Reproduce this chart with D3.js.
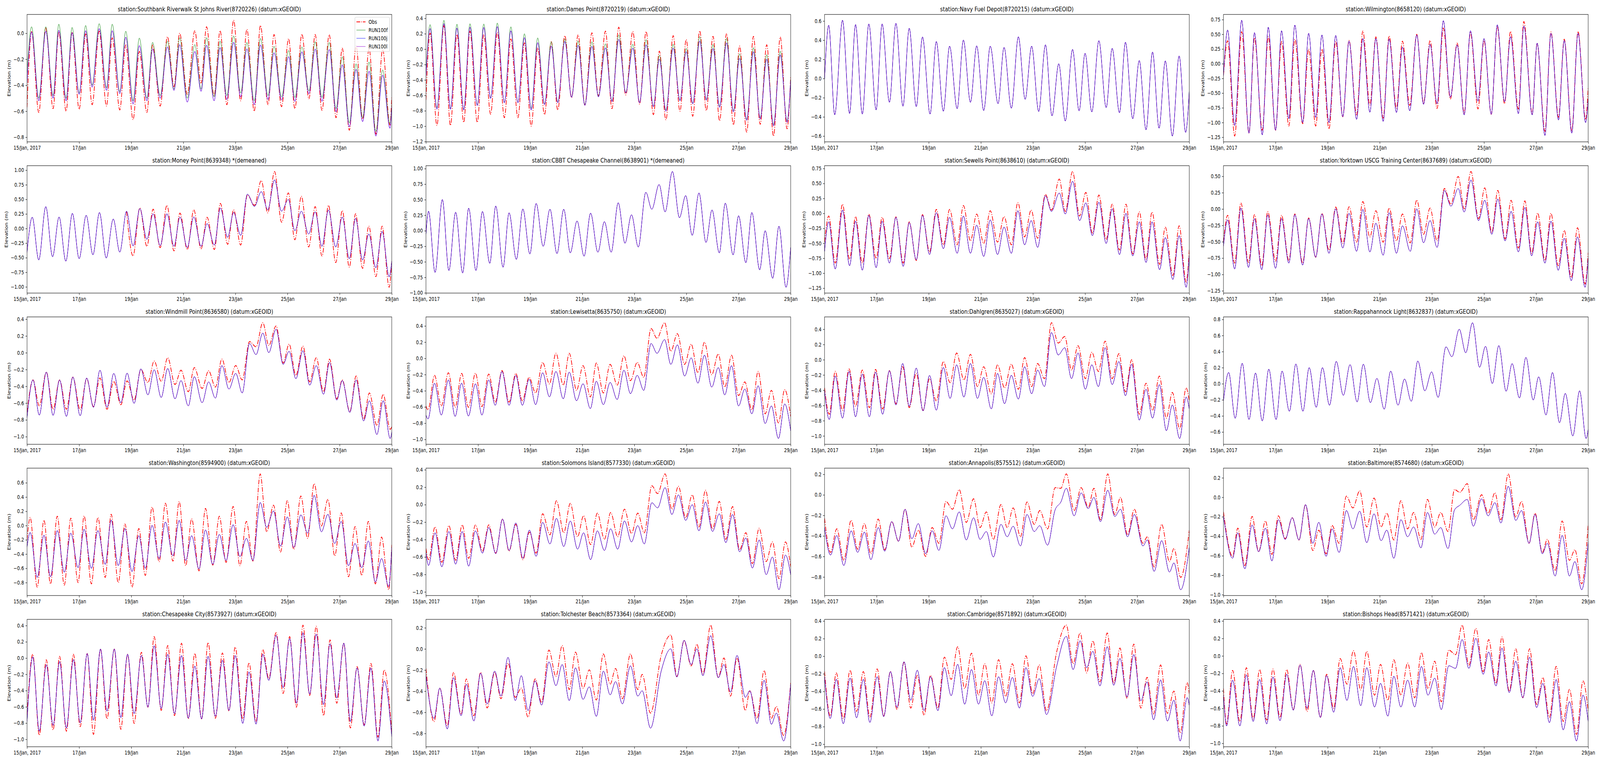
<!DOCTYPE html>
<html><head><meta charset="utf-8">
<script src="https://cdnjs.cloudflare.com/ajax/libs/d3/7.8.5/d3.min.js"></script>
<style>html,body{margin:0;padding:0;background:#fff;overflow:hidden;width:100%;height:100%}svg{display:block;width:100vw;height:100vh}text{font-family:"DejaVu Sans",sans-serif}</style>
</head><body><svg id="c" viewBox="0 0 5150 1950" preserveAspectRatio="none"></svg>
<script>
// ---- x axis ticks ----
const xTickDays = [0,2,4,6,8,10,12,14];
const xTickLabels = ["15/Jan, 2017","17/Jan","19/Jan","21/Jan","23/Jan","25/Jan","27/Jan","29/Jan"];
const seriesNames = ["Obs","RUN100f","RUN100j","RUN100l"];

// ---- 1 Southbank ----
const t01=[0,0.175,0.45,0.72,1.0,1.22,1.5,1.73,2.0,2.25,2.5,2.77,3.05,3.27,3.56,3.79,4.07,4.31,4.6,4.82,5.11,5.39,5.64,5.86,6.15,6.44,6.68,6.89,7.18,7.41,7.67,7.93,8.2,8.44,8.72,8.96,9.25,9.48,9.77,10.04,10.28,10.55,10.82,11.06,11.32,11.6,11.86,12.1,12.37,12.63,12.88,13.13,13.39,13.65,13.93,14];
const obs01=[-0.57,0.013,-0.61,0.04,-0.58,0.01,-0.60,0.005,-0.585,-0.005,-0.55,0.016,-0.56,-0.035,-0.59,-0.09,-0.665,-0.14,-0.61,-0.09,-0.56,-0.027,-0.41,0.0,-0.47,0.02,-0.383,0.05,-0.48,0.02,-0.55,0.10,-0.52,0.03,-0.60,0.06,-0.55,-0.01,-0.565,-0.042,-0.58,-0.007,-0.504,-0.01,-0.593,-0.011,-0.65,-0.115,-0.746,-0.098,-0.66,-0.118,-0.776,-0.123,-0.706,-0.485];
const f01=[-0.30,0.05,-0.50,0.05,-0.48,0.07,-0.50,0.045,-0.46,0.06,-0.40,0.074,-0.42,0.07,-0.45,0.016,-0.52,-0.037,-0.50,-0.07,-0.48,-0.06,-0.43,-0.034,-0.50,-0.087,-0.43,-0.034,-0.49,-0.06,-0.48,-0.02,-0.46,-0.07,-0.52,-0.04,-0.48,-0.10,-0.49,-0.133,-0.494,-0.105,-0.444,-0.065,-0.494,-0.071,-0.58,-0.181,-0.69,-0.235,-0.65,-0.221,-0.756,-0.282,-0.696,-0.55];
const l01=[-0.38,0.01,-0.52,0.016,-0.50,0.023,-0.52,0.005,-0.47,0.02,-0.415,0.036,-0.44,0.02,-0.465,-0.03,-0.545,-0.095,-0.52,-0.12,-0.50,-0.105,-0.44,-0.088,-0.53,-0.14,-0.447,-0.092,-0.52,-0.11,-0.51,-0.07,-0.49,-0.12,-0.55,-0.09,-0.51,-0.15,-0.514,-0.18,-0.524,-0.143,-0.466,-0.121,-0.524,-0.125,-0.605,-0.243,-0.72,-0.277,-0.68,-0.292,-0.791,-0.322,-0.731,-0.565];
const yt01=[-0.8,-0.6,-0.4,-0.2,0.0];

// ---- 2 Dames Point ----
const t02=[0,0.16,0.42,0.69,0.94,1.19,1.45,1.69,1.97,2.22,2.48,2.74,3.01,3.26,3.53,3.78,4.04,4.29,4.55,4.81,5.06,5.33,5.59,5.84,6.1,6.37,6.62,6.89,7.14,7.4,7.67,7.94,8.2,8.45,8.73,8.96,9.21,9.49,9.75,9.99,10.24,10.51,10.76,11.02,11.27,11.54,11.8,12.04,12.31,12.57,12.83,13.08,13.34,13.6,13.86,14];
const obs02=[-0.66,0.209,-0.99,0.305,-0.99,0.19,-0.95,0.234,-0.95,0.19,-0.845,0.217,-0.89,0.133,-0.89,0.082,-1.0,0.018,-0.85,0.096,-0.79,0.175,-0.63,0.186,-0.725,0.212,-0.608,0.234,-0.773,0.285,-0.594,0.229,-0.714,0.229,-0.85,-0.025,-0.917,0.175,-0.806,0.124,-0.871,0.237,-0.798,0.166,-0.93,0.203,-0.983,0.04,-1.077,0.166,-0.975,0.057,-1.128,0.158,-1.034,-0.358];
const f02=[-0.31,0.319,-0.76,0.375,-0.77,0.324,-0.78,0.33,-0.72,0.327,-0.63,0.339,-0.69,0.29,-0.69,0.2,-0.77,0.146,-0.71,0.096,-0.685,0.133,-0.62,0.107,-0.72,0.096,-0.61,0.07,-0.67,0.187,-0.56,0.065,-0.69,0.124,-0.74,-0.08,-0.79,0.065,-0.66,0.01,-0.70,0.163,-0.65,0.061,-0.74,0.14,-0.80,-0.06,-0.91,0.019,-0.89,-0.071,-0.98,-0.025,-0.93,-0.40];
const l02=[-0.36,0.268,-0.78,0.332,-0.78,0.273,-0.79,0.285,-0.733,0.282,-0.64,0.293,-0.696,0.238,-0.696,0.15,-0.79,0.085,-0.72,0.04,-0.696,0.1,-0.625,0.05,-0.73,0.036,-0.62,0.017,-0.682,0.127,-0.569,0.014,-0.696,0.057,-0.747,-0.13,-0.806,0.014,-0.67,-0.033,-0.71,0.107,-0.663,0.008,-0.755,0.082,-0.815,-0.118,-0.924,-0.033,-0.907,-0.13,-0.997,-0.074,-0.95,-0.41];
const yt02=[-1.2,-1.0,-0.8,-0.6,-0.4,-0.2,0.0,0.2,0.4];

// ---- 3 Navy Fuel Depot (model only) ----
const t03=[0,0.16,0.39,0.69,0.96,1.19,1.45,1.7,1.98,2.21,2.49,2.74,3.01,3.25,3.52,3.76,4.05,4.29,4.56,4.8,5.09,5.33,5.6,5.84,6.11,6.36,6.66,6.89,7.17,7.44,7.7,7.95,8.22,8.48,8.73,8.99,9.24,9.52,9.77,10.0,10.26,10.53,10.81,11.04,11.32,11.55,11.83,12.08,12.34,12.59,12.84,13.08,13.35,13.61,13.86,14];
const mod03=[0.0,0.556,-0.378,0.608,-0.364,0.563,-0.371,0.57,-0.327,0.57,-0.248,0.577,-0.289,0.525,-0.293,0.434,-0.371,0.386,-0.341,0.338,-0.314,0.402,-0.248,0.341,-0.334,0.338,-0.262,0.325,-0.31,0.436,-0.217,0.338,-0.344,0.352,-0.389,0.154,-0.443,0.304,-0.337,0.263,-0.348,0.395,-0.303,0.315,-0.357,0.379,-0.419,0.188,-0.535,0.277,-0.518,0.184,-0.60,0.236,-0.562,-0.132];
const yt03=[-0.6,-0.4,-0.2,0.0,0.2,0.4,0.6];

// ---- 4 Wilmington ----
const t04=[0,0.16,0.43,0.7,0.98,1.19,1.49,1.72,2.0,2.23,2.51,2.74,3.04,3.27,3.54,3.78,4.05,4.31,4.58,4.82,5.11,5.35,5.62,5.85,6.13,6.36,6.64,6.87,7.15,7.42,7.68,7.93,8.2,8.44,8.71,8.97,9.24,9.48,9.77,10.0,10.28,10.51,10.79,11.02,11.32,11.53,11.85,12.04,12.34,12.57,12.86,13.08,13.37,13.61,13.9,14];
const obs04=[-0.2,0.39,-1.23,0.544,-1.18,0.44,-1.13,0.46,-1.13,0.377,-1.06,0.417,-1.02,0.25,-1.06,0.25,-1.11,0.377,-0.902,0.395,-0.87,0.557,-0.702,0.457,-0.924,0.473,-0.758,0.384,-0.71,0.5,-0.67,0.395,-0.76,0.606,-0.6,0.35,-0.836,0.528,-0.77,0.395,-0.86,0.628,-0.68,0.55,-0.77,0.717,-0.85,0.34,-1.15,0.54,-0.91,0.417,-1.14,0.55,-0.95,-0.4];
const mod04=[-0.2,0.573,-1.05,0.739,-1.18,0.528,-1.21,0.62,-1.13,0.56,-0.935,0.657,-1.0,0.517,-0.913,0.488,-1.0,0.48,-0.902,0.384,-0.946,0.428,-0.825,0.428,-0.98,0.42,-0.83,0.284,-0.8,0.488,-0.69,0.328,-0.68,0.732,-0.57,0.318,-0.87,0.56,-0.636,0.428,-0.86,0.661,-0.647,0.46,-0.85,0.64,-0.87,0.35,-1.22,0.517,-0.957,0.395,-1.18,0.517,-1.0,-0.6];
const yt04=[-1.25,-1.0,-0.75,-0.5,-0.25,0,0.25,0.5,0.75];

// ---- 5 Money Point ----
const t05=[0,0.2,0.45,0.72,0.98,1.23,1.49,1.74,2.0,2.27,2.53,2.78,3.04,3.31,3.56,3.82,4.07,4.33,4.6,4.84,5.11,5.37,5.64,5.87,6.15,6.4,6.68,6.91,7.19,7.42,7.7,7.93,8.2,8.46,8.73,8.99,9.24,9.5,9.77,10.03,10.28,10.53,10.81,11.06,11.32,11.57,11.85,12.1,12.37,12.61,12.88,13.12,13.39,13.63,13.9,14];
const obs05=[null,null,null,null,null,null,null,null,null,null,null,null,null,null,null,0.29,-0.47,0.353,-0.305,0.331,-0.327,0.398,-0.383,0.264,-0.36,0.32,-0.35,0.193,-0.36,0.431,-0.27,0.32,-0.283,0.576,0.398,0.822,0.269,0.978,0.108,0.61,-0.193,0.553,-0.316,0.375,-0.471,0.398,-0.583,0.308,-0.661,0.253,-0.683,0.041,-0.824,0.041,-1.007,-0.56];
const mod05=[-0.41,0.193,-0.538,0.375,-0.483,0.197,-0.56,0.26,-0.516,0.226,-0.45,0.275,-0.505,0.163,-0.405,0.297,-0.3,0.342,-0.183,0.253,-0.294,0.253,-0.305,0.197,-0.327,0.2,-0.305,0.085,-0.283,0.353,-0.15,0.275,-0.116,0.588,0.38,0.632,0.32,0.833,0.297,0.498,-0.037,0.297,-0.094,0.286,-0.305,0.32,-0.316,0.197,-0.516,0.175,-0.538,-0.094,-0.672,-0.05,-0.828,-0.56];
const yt05=[-1.0,-0.75,-0.5,-0.25,0,0.25,0.5,0.75,1.0];

// ---- 6 CBBT (model only) ----
const t06=[0,0.1,0.35,0.63,0.88,1.14,1.41,1.64,1.92,2.17,2.45,2.68,2.96,3.19,3.47,3.72,3.99,4.23,4.5,4.76,5.03,5.29,5.54,5.8,6.07,6.32,6.6,6.85,7.11,7.38,7.64,7.89,8.15,8.44,8.67,8.95,9.18,9.46,9.73,9.97,10.22,10.48,10.75,10.98,11.26,11.49,11.79,12.0,12.28,12.51,12.81,13.02,13.31,13.55,13.82,14];
const mod06=[-0.06,0.314,-0.67,0.503,-0.64,0.298,-0.68,0.363,-0.64,0.31,-0.524,0.398,-0.587,0.289,-0.461,0.35,-0.373,0.44,-0.252,0.346,-0.367,0.346,-0.356,0.157,-0.409,0.283,-0.346,0.147,-0.346,0.45,-0.2,0.258,-0.262,0.618,0.346,0.744,0.304,0.954,0.21,0.566,-0.073,0.608,-0.189,0.335,-0.356,0.444,-0.388,0.241,-0.514,0.293,-0.629,0.0,-0.765,0.073,-0.91,-0.27];
const yt06=[-1.0,-0.75,-0.5,-0.25,0,0.25,0.5,0.75,1.0];

// ---- 7 Sewells Point ----
const t07=[0,0.16,0.41,0.69,0.96,1.19,1.45,1.7,1.98,2.21,2.49,2.74,3.02,3.25,3.52,3.76,4.03,4.29,4.56,4.8,5.09,5.33,5.6,5.84,6.11,6.36,6.64,6.89,7.17,7.42,7.68,7.93,8.18,8.48,8.71,9.01,9.24,9.52,9.79,10.03,10.28,10.53,10.81,11.04,11.32,11.57,11.83,12.08,12.34,12.57,12.86,13.08,13.37,13.61,13.88,14];
const obs07=[-0.48,-0.044,-0.83,0.153,-0.765,-0.055,-0.83,-0.015,-0.754,-0.066,-0.754,-0.059,-0.83,-0.142,-0.787,-0.022,-0.645,0.066,-0.525,0.066,-0.525,0.131,-0.459,-0.011,-0.503,0.044,-0.48,-0.055,-0.525,0.18,-0.393,0.055,-0.415,0.317,0.055,0.573,0.033,0.70,-0.044,0.35,-0.328,0.306,-0.437,0.153,-0.612,0.153,-0.677,0.026,-0.765,0.022,-0.852,-0.23,-1.038,-0.208,-1.147,-0.61];
const mod07=[-0.634,-0.142,-0.929,0.055,-0.874,-0.131,-0.95,-0.033,-0.907,-0.131,-0.83,-0.066,-0.885,-0.153,-0.776,-0.033,-0.688,0.011,-0.59,-0.066,-0.667,-0.044,-0.667,-0.197,-0.72,-0.109,-0.688,-0.23,-0.667,0.044,-0.525,-0.12,-0.568,0.295,0.033,0.339,-0.011,0.536,-0.12,0.175,-0.372,0.186,-0.503,0.077,-0.688,0.0,-0.71,-0.142,-0.82,-0.142,-0.94,-0.404,-1.104,-0.372,-1.235,-0.7];
const yt07=[-1.25,-1.0,-0.75,-0.5,-0.25,0,0.25,0.5,0.75];

// ---- 8 Yorktown ----
const t08=[0,0.16,0.43,0.67,0.96,1.19,1.47,1.7,2.0,2.23,2.51,2.74,3.04,3.27,3.54,3.78,4.05,4.31,4.58,4.82,5.11,5.35,5.62,5.85,6.13,6.36,6.64,6.87,7.17,7.42,7.68,7.93,8.2,8.48,8.73,9.01,9.24,9.5,9.79,10.03,10.3,10.53,10.81,11.04,11.32,11.57,11.83,12.06,12.34,12.57,12.85,13.08,13.35,13.59,13.88,14];
const obs08=[-0.506,-0.096,-0.826,0.094,-0.816,-0.086,-0.866,-0.04,-0.796,-0.096,-0.786,-0.076,-0.826,-0.136,-0.736,-0.066,-0.626,0.03,-0.526,0.034,-0.506,0.114,-0.426,-0.026,-0.506,0.014,-0.486,-0.076,-0.516,0.138,-0.386,0.014,-0.486,0.314,0.074,0.498,0.004,0.574,-0.146,0.324,-0.356,0.284,-0.456,0.134,-0.596,0.124,-0.676,-0.062,-0.786,-0.066,-0.866,-0.326,-1.046,-0.286,-1.146,-0.666];
const mod08=[-0.566,-0.166,-0.916,0.014,-0.892,-0.146,-0.926,-0.09,-0.906,-0.146,-0.826,-0.086,-0.856,-0.146,-0.736,-0.076,-0.676,0.004,-0.596,-0.066,-0.646,-0.006,-0.656,-0.216,-0.706,-0.056,-0.676,-0.256,-0.646,0.004,-0.516,-0.176,-0.586,0.284,0.044,0.314,-0.046,0.444,-0.176,0.134,-0.386,0.154,-0.486,-0.036,-0.656,0.024,-0.716,-0.196,-0.826,-0.186,-0.936,-0.446,-1.096,-0.426,-1.196,-0.746];
const yt08=[-1.25,-1.0,-0.75,-0.5,-0.25,0,0.25,0.5];

// ---- 9 Windmill Point ----
const t09=[0,0.23,0.47,0.74,1.0,1.25,1.51,1.76,2.04,2.29,2.55,2.8,3.07,3.33,3.6,3.84,4.11,4.37,4.64,4.88,5.15,5.4,5.68,5.91,6.19,6.42,6.72,6.97,7.23,7.48,7.75,8.01,8.26,8.54,8.79,9.05,9.28,9.56,9.83,10.06,10.32,10.59,10.85,11.1,11.38,11.61,11.89,12.1,12.39,12.63,12.92,13.14,13.43,13.67,13.94,14];
const obs09=[-0.71,-0.324,-0.634,-0.231,-0.673,-0.324,-0.673,-0.29,-0.68,-0.308,-0.642,-0.301,-0.673,-0.34,-0.619,-0.336,-0.564,-0.2,-0.355,-0.099,-0.34,-0.06,-0.378,-0.208,-0.464,-0.177,-0.425,-0.215,-0.409,-0.076,-0.355,-0.153,-0.324,0.133,0.071,0.358,0.087,0.319,-0.122,0.102,-0.27,0.079,-0.347,-0.06,-0.464,-0.076,-0.549,-0.324,-0.704,-0.278,-0.789,-0.479,-0.867,-0.495,-0.913,-0.882];
const mod09=[-0.773,-0.324,-0.743,-0.231,-0.746,-0.324,-0.758,-0.29,-0.75,-0.301,-0.65,-0.208,-0.65,-0.246,-0.595,-0.243,-0.603,-0.192,-0.502,-0.203,-0.533,-0.188,-0.549,-0.332,-0.634,-0.285,-0.595,-0.347,-0.541,-0.153,-0.433,-0.246,-0.479,0.11,-0.022,0.234,0.002,0.281,-0.138,0.017,-0.309,0.025,-0.386,-0.153,-0.495,-0.115,-0.564,-0.332,-0.712,-0.324,-0.812,-0.572,-0.975,-0.572,-1.022,-0.944];
const yt09=[-1.0,-0.8,-0.6,-0.4,-0.2,0.0,0.2,0.4];

// ---- 10 Lewisetta ----
const t10=[0,0.08,0.33,0.59,0.86,1.12,1.37,1.63,1.9,2.15,2.41,2.66,2.92,3.19,3.45,3.7,3.96,4.21,4.48,4.74,4.99,5.27,5.5,5.78,6.03,6.31,6.54,6.81,7.07,7.34,7.6,7.85,8.11,8.36,8.64,8.87,9.16,9.4,9.65,9.93,10.18,10.44,10.69,10.97,11.22,11.47,11.73,12.0,12.24,12.51,12.75,13.02,13.26,13.53,13.77,14];
const obs10=[-0.587,-0.636,-0.21,-0.587,-0.178,-0.603,-0.186,-0.603,-0.183,-0.595,-0.194,-0.539,-0.151,-0.539,-0.186,-0.523,-0.234,-0.427,-0.05,-0.315,0.063,-0.331,0.063,-0.395,-0.09,-0.475,-0.058,-0.427,-0.074,-0.331,0.031,-0.275,-0.05,-0.234,0.368,0.247,0.44,0.087,0.304,-0.074,0.175,-0.178,0.199,-0.202,0.055,-0.355,0.039,-0.459,-0.291,-0.636,-0.162,-0.684,-0.395,-0.796,-0.387,-0.716];
const mod10=[-0.70,-0.748,-0.306,-0.70,-0.266,-0.716,-0.306,-0.712,-0.314,-0.70,-0.266,-0.579,-0.162,-0.579,-0.21,-0.579,-0.258,-0.571,-0.178,-0.475,-0.162,-0.499,-0.17,-0.523,-0.314,-0.619,-0.282,-0.571,-0.298,-0.507,-0.146,-0.435,-0.21,-0.395,0.183,0.063,0.231,-0.074,0.167,-0.218,0.006,-0.306,0.039,-0.355,-0.114,-0.451,-0.09,-0.587,-0.379,-0.684,-0.338,-0.804,-0.587,-0.989,-0.563,-0.893];
const yt10=[-1.0,-0.8,-0.6,-0.4,-0.2,0.0,0.2,0.4];

// ---- 11 Dahlgren ----
const t11=[0,0.18,0.41,0.69,0.94,1.19,1.45,1.72,1.96,2.23,2.49,2.74,3.0,3.25,3.52,3.78,4.03,4.29,4.56,4.82,5.07,5.35,5.6,5.87,6.11,6.4,6.64,6.91,7.17,7.44,7.68,7.95,8.18,8.44,8.71,8.97,9.22,9.48,9.73,10.01,10.26,10.51,10.77,11.04,11.3,11.55,11.79,12.08,12.34,12.59,12.85,13.12,13.35,13.63,13.88,14];
const obs11=[-0.37,-0.715,-0.153,-0.663,-0.119,-0.611,-0.136,-0.629,-0.127,-0.646,-0.144,-0.577,-0.092,-0.629,-0.179,-0.663,-0.248,-0.542,-0.024,-0.3,0.088,-0.266,0.071,-0.352,-0.092,-0.447,-0.067,-0.37,-0.058,-0.387,0.028,-0.352,-0.05,-0.248,0.486,0.219,0.305,-0.136,0.184,-0.248,0.097,-0.153,0.244,-0.248,0.079,-0.421,0.002,-0.715,-0.309,-0.663,-0.214,-0.767,-0.43,-0.905,-0.37,-0.542];
const mod11=[-0.404,-0.784,-0.214,-0.767,-0.153,-0.749,-0.188,-0.749,-0.162,-0.715,-0.144,-0.594,-0.049,-0.611,-0.11,-0.672,-0.205,-0.663,-0.101,-0.508,-0.067,-0.49,-0.049,-0.508,-0.231,-0.646,-0.179,-0.577,-0.205,-0.516,-0.092,-0.447,-0.136,-0.352,0.357,0.062,0.158,-0.248,0.089,-0.387,-0.067,-0.352,0.158,-0.326,-0.024,-0.473,-0.058,-0.792,-0.387,-0.767,-0.326,-0.931,-0.594,-1.034,-0.49,-0.646];
const yt11=[-1.0,-0.8,-0.6,-0.4,-0.2,0.0,0.2,0.4];

// ---- 12 Rappahannock Light (model only) ----
const t12=[0,0.2,0.45,0.72,0.98,1.23,1.49,1.74,2.02,2.25,2.53,2.78,3.05,3.29,3.56,3.8,4.07,4.33,4.6,4.86,5.13,5.37,5.64,5.89,6.17,6.42,6.7,6.95,7.21,7.46,7.73,7.99,8.24,8.54,8.77,9.05,9.3,9.56,9.83,10.06,10.32,10.57,10.85,11.08,11.36,11.61,11.89,12.1,12.38,12.63,12.9,13.12,13.41,13.67,13.92,14];
const mod12=[-0.21,0.14,-0.429,0.254,-0.445,0.133,-0.462,0.181,-0.445,0.157,-0.342,0.246,-0.342,0.2,-0.293,0.2,-0.267,0.278,-0.145,0.238,-0.226,0.243,-0.234,0.067,-0.316,0.157,-0.267,0.059,-0.218,0.282,-0.088,0.148,-0.169,0.458,0.336,0.678,0.385,0.759,0.205,0.466,0.002,0.474,-0.093,0.25,-0.177,0.328,-0.202,0.086,-0.388,0.14,-0.485,-0.12,-0.649,-0.088,-0.681,-0.567];
const yt12=[-0.6,-0.4,-0.2,0.0,0.2,0.4,0.6,0.8];

// ---- 13 Washington ----
const t13=[0,0.12,0.39,0.65,0.9,1.16,1.43,1.68,1.96,2.19,2.47,2.72,3.0,3.23,3.5,3.76,4.03,4.29,4.54,4.8,5.07,5.31,5.6,5.84,6.09,6.32,6.6,6.85,7.13,7.38,7.64,7.91,8.17,8.42,8.67,8.95,9.2,9.46,9.73,9.99,10.24,10.51,10.77,11.02,11.3,11.55,11.81,12.06,12.34,12.59,12.85,13.1,13.37,13.61,13.88,14];
const obs13=[-0.2,0.113,-0.864,0.076,-0.818,0.131,-0.836,0.104,-0.8,0.135,-0.818,0.113,-0.727,0.159,-0.8,0.022,-0.864,-0.042,-0.7,0.259,-0.507,0.313,-0.498,0.336,-0.562,0.094,-0.636,0.24,-0.554,0.131,-0.516,0.268,-0.562,0.058,-0.498,0.724,-0.088,0.286,-0.371,0.35,-0.334,0.414,-0.179,0.587,-0.005,0.368,-0.425,0.177,-0.718,-0.015,-0.7,0.058,-0.818,-0.161,-0.9,-0.27];
const mod13=[-0.3,-0.097,-0.727,-0.134,-0.718,-0.07,-0.653,-0.106,-0.59,-0.051,-0.599,-0.07,-0.544,0.076,-0.562,-0.042,-0.645,-0.142,-0.599,0.003,-0.462,0.049,-0.425,0.073,-0.49,-0.142,-0.608,-0.061,-0.544,-0.124,-0.49,0.012,-0.434,-0.179,-0.49,0.323,-0.024,0.204,-0.288,0.122,-0.307,0.149,-0.106,0.423,-0.088,0.158,-0.252,0.058,-0.562,-0.252,-0.59,-0.215,-0.791,-0.462,-0.855,-0.307];
const yt13=[-0.8,-0.6,-0.4,-0.2,0.0,0.2,0.4,0.6];

// ---- 14 Solomons Island ----
const t14=[0,0.1,0.35,0.61,0.88,1.14,1.39,1.64,1.9,2.17,2.41,2.68,2.94,3.19,3.45,3.72,3.97,4.23,4.48,4.76,5.01,5.29,5.54,5.82,6.05,6.32,6.58,6.85,7.09,7.36,7.62,7.89,8.13,8.38,8.67,8.89,9.18,9.44,9.69,9.97,10.22,10.48,10.73,11.0,11.26,11.51,11.77,12.04,12.28,12.53,12.79,13.06,13.3,13.55,13.8,14];
const obs14=[-0.502,-0.63,-0.255,-0.66,-0.24,-0.637,-0.232,-0.615,-0.232,-0.532,-0.232,-0.555,-0.165,-0.532,-0.225,-0.63,-0.315,-0.555,-0.105,-0.345,0.045,-0.322,0.015,-0.367,-0.127,-0.457,-0.097,-0.397,-0.09,-0.367,-0.052,-0.33,-0.097,-0.322,0.217,0.127,0.352,-0.052,0.21,-0.15,0.112,-0.255,0.165,-0.277,0.037,-0.397,-0.022,-0.517,-0.322,-0.675,-0.27,-0.652,-0.427,-0.847,-0.427,-0.712];
const mod14=[-0.547,-0.697,-0.322,-0.712,-0.307,-0.682,-0.307,-0.705,-0.3,-0.555,-0.262,-0.562,-0.165,-0.525,-0.21,-0.615,-0.292,-0.592,-0.203,-0.45,-0.157,-0.48,-0.187,-0.51,-0.322,-0.63,-0.3,-0.525,-0.277,-0.51,-0.187,-0.427,-0.24,-0.45,0.022,-0.037,0.195,-0.112,0.112,-0.18,0.0,-0.3,0.03,-0.307,-0.105,-0.435,-0.112,-0.54,-0.382,-0.727,-0.405,-0.802,-0.6,-0.975,-0.577,-0.802];
const yt14=[-1.0,-0.8,-0.6,-0.4,-0.2,0.0,0.2,0.4];

// ---- 15 Annapolis ----
const t15=[0,0.23,0.47,0.74,1.02,1.27,1.53,1.78,2.06,2.31,2.58,2.84,3.09,3.35,3.6,3.88,4.13,4.39,4.66,4.91,5.17,5.44,5.72,5.97,6.21,6.48,6.77,7.01,7.24,7.52,7.77,8.05,8.26,8.56,8.85,9.07,9.28,9.58,9.85,10.12,10.34,10.59,10.87,11.14,11.36,11.63,11.89,12.22,12.39,12.65,12.94,13.24,13.41,13.67,14];
const obs15=[-0.229,-0.56,-0.331,-0.637,-0.248,-0.529,-0.28,-0.573,-0.236,-0.535,-0.261,-0.452,-0.14,-0.509,-0.344,-0.599,-0.318,-0.471,-0.064,-0.14,0.051,-0.268,-0.038,-0.318,-0.166,-0.433,-0.095,-0.318,-0.127,-0.408,-0.07,-0.287,-0.153,-0.331,0.07,0.064,0.204,-0.153,0.07,-0.121,0.064,-0.242,0.204,-0.191,-0.025,-0.389,-0.14,-0.471,-0.408,-0.701,-0.287,-0.65,-0.522,-0.803,-0.344];
const mod15=[-0.318,-0.586,-0.395,-0.688,-0.35,-0.56,-0.363,-0.631,-0.318,-0.548,-0.261,-0.452,-0.14,-0.427,-0.28,-0.573,-0.35,-0.541,-0.204,-0.331,-0.166,-0.439,-0.223,-0.433,-0.357,-0.605,-0.287,-0.408,-0.306,-0.497,-0.191,-0.357,-0.3,-0.49,-0.146,-0.07,0.064,-0.204,0.019,-0.134,-0.025,-0.261,0.045,-0.21,-0.14,-0.408,-0.191,-0.497,-0.439,-0.745,-0.446,-0.752,-0.663,-0.924,-0.509];
const yt15=[-0.8,-0.6,-0.4,-0.2,0.0,0.2];

// ---- 16 Baltimore ----
const t16=[0,0.35,0.55,0.82,1.1,1.35,1.61,1.86,2.11,2.37,2.64,2.9,3.15,3.43,3.66,3.94,4.17,4.44,4.72,4.97,5.23,5.5,5.78,6.05,6.27,6.54,6.81,7.07,7.3,7.58,7.83,8.11,8.34,8.62,8.87,9.07,9.36,9.59,9.91,10.16,10.42,10.65,10.93,11.22,11.44,11.73,11.96,12.24,12.43,12.73,13.0,13.28,13.49,13.75,14];
const obs16=[-0.15,-0.606,-0.317,-0.70,-0.196,-0.559,-0.243,-0.586,-0.19,-0.425,-0.21,-0.438,-0.075,-0.546,-0.338,-0.579,-0.29,-0.472,0.012,-0.109,0.066,-0.304,-0.008,-0.304,-0.163,-0.438,-0.035,-0.324,-0.156,-0.432,-0.022,-0.304,-0.156,-0.351,0.079,0.052,0.14,-0.23,0.026,-0.163,0.046,-0.23,0.24,-0.203,-0.042,-0.472,-0.163,-0.566,-0.432,-0.754,-0.243,-0.647,-0.539,-0.888,-0.277];
const mod16=[-0.19,-0.626,-0.364,-0.734,-0.284,-0.559,-0.317,-0.653,-0.23,-0.432,-0.21,-0.438,-0.075,-0.472,-0.257,-0.606,-0.324,-0.566,-0.136,-0.324,-0.143,-0.465,-0.17,-0.445,-0.337,-0.626,-0.23,-0.405,-0.304,-0.519,-0.156,-0.378,-0.311,-0.526,-0.129,-0.082,-0.022,-0.297,-0.015,-0.19,-0.055,-0.264,0.113,-0.237,-0.136,-0.472,-0.176,-0.579,-0.472,-0.808,-0.391,-0.808,-0.66,-0.949,-0.458];
const yt16=[-1.0,-0.8,-0.6,-0.4,-0.2,0.0,0.2];

// ---- 17 Chesapeake City ----
const t17=[0,0.22,0.47,0.74,1.0,1.25,1.51,1.78,2.04,2.31,2.55,2.82,3.07,3.35,3.6,3.86,4.11,4.39,4.64,4.88,5.15,5.4,5.66,5.93,6.19,6.44,6.7,6.95,7.23,7.5,7.75,7.99,8.28,8.52,8.79,9.05,9.28,9.56,9.83,10.08,10.34,10.59,10.85,11.1,11.38,11.63,11.89,12.16,12.41,12.67,12.94,13.2,13.47,13.71,14];
const obs17=[-0.70,0.047,-0.949,-0.022,-0.884,0.022,-0.90,0.047,-0.844,0.055,-0.94,0.111,-0.748,0.111,-0.876,0.047,-0.804,0.071,-0.604,0.264,-0.644,0.154,-0.708,0.183,-0.748,0.058,-0.748,0.191,-0.74,0.063,-0.652,0.135,-0.748,-0.058,-0.78,0.103,-0.25,0.312,-0.435,0.264,-0.604,0.405,-0.459,0.392,-0.708,0.223,-0.555,0.183,-0.86,-0.106,-0.82,-0.066,-0.972,-0.146,-0.908];
const mod17=[-0.78,0.015,-0.90,-0.082,-0.828,-0.042,-0.86,-0.017,-0.796,0.055,-0.764,0.111,-0.652,0.111,-0.732,0.047,-0.684,0.031,-0.604,0.151,-0.62,0.047,-0.684,0.031,-0.74,-0.098,-0.748,0.022,-0.716,-0.026,-0.644,0.031,-0.804,-0.17,-0.812,0.047,-0.274,0.28,-0.363,0.239,-0.555,0.312,-0.443,0.296,-0.571,0.175,-0.491,0.183,-0.78,-0.122,-0.836,-0.122,-1.02,-0.282,-0.965];
const yt17=[-1.0,-0.8,-0.6,-0.4,-0.2,0.0,0.2,0.4];

// ---- 18 Tolchester Beach ----
const t18=[0,0.31,0.53,0.82,1.06,1.35,1.55,1.84,2.1,2.35,2.64,2.88,3.15,3.43,3.66,3.92,4.19,4.44,4.72,4.99,5.23,5.5,5.74,6.03,6.27,6.54,6.81,7.07,7.28,7.54,7.85,8.13,8.3,8.62,9.03,9.4,9.63,9.91,10.18,10.4,10.63,10.93,11.22,11.44,11.69,11.94,12.26,12.43,12.71,12.98,13.26,13.45,13.73,14];
const obs18=[-0.185,-0.688,-0.371,-0.725,-0.222,-0.62,-0.284,-0.632,-0.222,-0.558,-0.222,-0.471,-0.135,-0.458,-0.371,-0.645,-0.284,-0.508,-0.011,-0.26,0.032,-0.384,-0.03,-0.371,-0.198,-0.483,-0.048,-0.334,-0.185,-0.471,-0.048,-0.384,-0.241,-0.607,-0.061,0.132,-0.26,0.077,-0.16,0.045,-0.235,0.225,-0.272,-0.086,-0.446,-0.086,-0.583,-0.396,-0.657,-0.204,-0.657,-0.545,-0.819,-0.322];
const mod18=[-0.253,-0.657,-0.371,-0.757,-0.272,-0.632,-0.334,-0.682,-0.229,-0.52,-0.21,-0.446,-0.08,-0.489,-0.253,-0.583,-0.303,-0.532,-0.123,-0.347,-0.148,-0.489,-0.179,-0.477,-0.359,-0.638,-0.21,-0.434,-0.309,-0.52,-0.16,-0.446,-0.396,-0.75,-0.21,0.001,-0.266,0.082,-0.148,0.001,-0.253,0.125,-0.272,-0.148,-0.409,-0.061,-0.458,-0.396,-0.707,-0.297,-0.713,-0.607,-0.871,-0.334];
const yt18=[-0.8,-0.6,-0.4,-0.2,0.0,0.2];

// ---- 19 Cambridge ----
const t19=[0,0.22,0.45,0.72,0.98,1.23,1.49,1.74,2.02,2.27,2.53,2.78,3.05,3.31,3.56,3.82,4.07,4.35,4.6,4.86,5.11,5.38,5.64,5.91,6.15,6.42,6.68,6.95,7.21,7.48,7.73,7.99,8.24,8.52,8.91,9.28,9.54,9.81,10.06,10.3,10.57,10.85,11.1,11.34,11.61,11.87,12.14,12.38,12.63,12.9,13.16,13.41,13.65,13.92,14];
const obs19=[-0.174,-0.678,-0.189,-0.708,-0.159,-0.626,-0.174,-0.693,-0.144,-0.678,-0.174,-0.604,-0.07,-0.589,-0.218,-0.67,-0.218,-0.589,-0.011,-0.263,0.108,-0.367,0.034,-0.441,-0.085,-0.53,-0.04,-0.456,-0.085,-0.53,0.004,-0.426,-0.099,-0.619,0.049,0.353,-0.085,0.264,-0.189,0.175,-0.292,0.264,-0.307,0.093,-0.478,0.138,-0.589,-0.24,-0.656,-0.099,-0.648,-0.396,-0.871,-0.30,-0.426];
const mod19=[-0.233,-0.708,-0.263,-0.767,-0.248,-0.70,-0.263,-0.752,-0.233,-0.686,-0.174,-0.582,-0.063,-0.50,-0.159,-0.618,-0.233,-0.618,-0.129,-0.448,-0.092,-0.545,-0.151,-0.545,-0.278,-0.678,-0.233,-0.53,-0.241,-0.589,-0.129,-0.456,-0.255,-0.663,-0.114,0.226,-0.151,0.175,-0.129,0.056,-0.337,0.108,-0.33,-0.025,-0.463,0.019,-0.507,-0.292,-0.722,-0.27,-0.737,-0.50,-0.963,-0.47,-0.559];
const yt19=[-1.0,-0.8,-0.6,-0.4,-0.2,0.0,0.2,0.4];

// ---- 20 Bishops Head ----
const t20=[0,0.12,0.35,0.63,0.88,1.14,1.39,1.66,1.9,2.17,2.43,2.68,2.94,3.21,3.45,3.72,3.96,4.23,4.48,4.74,4.99,5.27,5.5,5.8,6.03,6.31,6.54,6.81,7.07,7.34,7.6,7.85,8.11,8.36,8.65,8.91,9.16,9.42,9.69,9.97,10.18,10.46,10.69,10.97,11.22,11.49,11.75,12.02,12.26,12.51,12.77,13.04,13.28,13.55,13.8,14];
const obs20=[-0.374,-0.778,-0.165,-0.749,-0.135,-0.719,-0.157,-0.734,-0.15,-0.704,-0.157,-0.614,-0.097,-0.636,-0.165,-0.704,-0.21,-0.599,-0.03,-0.322,0.06,-0.389,0.052,-0.449,-0.097,-0.509,-0.045,-0.449,-0.082,-0.479,0.037,-0.374,-0.06,-0.524,0.067,0.015,0.352,-0.105,0.314,-0.18,0.187,-0.314,0.217,-0.404,0.082,-0.479,0.082,-0.554,-0.247,-0.704,-0.12,-0.749,-0.382,-0.898,-0.285,-0.629];
const mod20=[-0.449,-0.801,-0.277,-0.801,-0.217,-0.749,-0.27,-0.778,-0.24,-0.741,-0.21,-0.621,-0.105,-0.599,-0.165,-0.704,-0.225,-0.644,-0.135,-0.509,-0.12,-0.569,-0.135,-0.584,-0.314,-0.689,-0.232,-0.584,-0.277,-0.584,-0.12,-0.449,-0.254,-0.614,-0.112,-0.142,0.187,-0.142,0.202,-0.21,0.045,-0.344,0.09,-0.419,-0.06,-0.479,-0.015,-0.591,-0.314,-0.763,-0.27,-0.846,-0.524,-0.973,-0.449,-0.749];
const yt20=[-1.0,-0.8,-0.6,-0.4,-0.2,0.0,0.2,0.4];

const stations=[
 {title:"station:Southbank Riverwalk St Johns River(8720226) (datum:xGEOID)",t:t01,obs:obs01,f:f01,j:l01,l:l01,ticks:yt01,legend:true},
 {title:"station:Dames Point(8720219) (datum:xGEOID)",t:t02,obs:obs02,f:f02,j:l02,l:l02,ticks:yt02},
 {title:"station:Navy Fuel Depot(8720215) (datum:xGEOID)",t:t03,obs:[],f:mod03,j:mod03,l:mod03,ticks:yt03},
 {title:"station:Wilmington(8658120) (datum:xGEOID)",t:t04,obs:obs04,f:mod04,j:mod04,l:mod04,ticks:yt04},
 {title:"station:Money Point(8639348) *(demeaned)",t:t05,obs:obs05,f:mod05,j:mod05,l:mod05,ticks:yt05},
 {title:"station:CBBT Chesapeake Channel(8638901) *(demeaned)",t:t06,obs:[],f:mod06,j:mod06,l:mod06,ticks:yt06},
 {title:"station:Sewells Point(8638610) (datum:xGEOID)",t:t07,obs:obs07,f:mod07,j:mod07,l:mod07,ticks:yt07},
 {title:"station:Yorktown USCG Training Center(8637689) (datum:xGEOID)",t:t08,obs:obs08,f:mod08,j:mod08,l:mod08,ticks:yt08},
 {title:"station:Windmill Point(8636580) (datum:xGEOID)",t:t09,obs:obs09,f:mod09,j:mod09,l:mod09,ticks:yt09},
 {title:"station:Lewisetta(8635750) (datum:xGEOID)",t:t10,obs:obs10,f:mod10,j:mod10,l:mod10,ticks:yt10},
 {title:"station:Dahlgren(8635027) (datum:xGEOID)",t:t11,obs:obs11,f:mod11,j:mod11,l:mod11,ticks:yt11},
 {title:"station:Rappahannock Light(8632837) (datum:xGEOID)",t:t12,obs:[],f:mod12,j:mod12,l:mod12,ticks:yt12},
 {title:"station:Washington(8594900) (datum:xGEOID)",t:t13,obs:obs13,f:mod13,j:mod13,l:mod13,ticks:yt13},
 {title:"station:Solomons Island(8577330) (datum:xGEOID)",t:t14,obs:obs14,f:mod14,j:mod14,l:mod14,ticks:yt14},
 {title:"station:Annapolis(8575512) (datum:xGEOID)",t:t15,obs:obs15,f:mod15,j:mod15,l:mod15,ticks:yt15},
 {title:"station:Baltimore(8574680) (datum:xGEOID)",t:t16,obs:obs16,f:mod16,j:mod16,l:mod16,ticks:yt16},
 {title:"station:Chesapeake City(8573927) (datum:xGEOID)",t:t17,obs:obs17,f:mod17,j:mod17,l:mod17,ticks:yt17},
 {title:"station:Tolchester Beach(8573364) (datum:xGEOID)",t:t18,obs:obs18,f:mod18,j:mod18,l:mod18,ticks:yt18},
 {title:"station:Cambridge(8571892) (datum:xGEOID)",t:t19,obs:obs19,f:mod19,j:mod19,l:mod19,ticks:yt19},
 {title:"station:Bishops Head(8571421) (datum:xGEOID)",t:t20,obs:obs20,f:mod20,j:mod20,l:mod20,ticks:yt20}
];

// ---- layout / style ----
const W=1174, H=326;
const colLeft=[87,1371,2654,3938];
const rowTop=[37,424,811,1198,1585];
const FS=13.9, TFS=16.67;
const styles=[
 {k:"obs",color:"#ff0000",w:2.1,dash:"12,3.3,2.1,3.3"},
 {k:"f",color:"#008000",w:1.0,dash:null},
 {k:"j",color:"#0000ff",w:1.0,dash:null},
 {k:"l",color:"#9400d3",w:1.0,dash:null}
];
const T0=Date.UTC(2017,0,15), DAY=86400000;
const toDate=d=>new Date(T0+d*DAY);
const svg=d3.select("#c");

stations.forEach((s,i)=>{
  ["obs","f","j","l"].forEach(k=>{ if(s[k].length && s[k].length!==s.t.length) throw new Error(s.title+" "+k+" "+s[k].length+" vs "+s.t.length); });
  const L=colLeft[i%4], T=rowTop[Math.floor(i/4)];
  const g=svg.append("g").attr("transform",`translate(${L},${T})`);
  const x=d3.scaleUtc().domain([toDate(0),toDate(14)]).range([0,W]);
  const all=[].concat(s.obs,s.f,s.j,s.l).filter(v=>v!=null);
  const [mn,mx]=d3.extent(all), pad=(mx-mn)*0.05;
  const y=d3.scaleLinear().domain([mn-pad,mx+pad]).range([H,0]);
  const [lo,hi]=y.domain();

  const clipId="clip"+i;
  g.append("clipPath").attr("id",clipId).append("rect").attr("width",W).attr("height",H);
  const line=d3.line().defined(d=>d.v!=null).x(d=>x(d.d)).y(d=>y(d.v)).curve(d3.curveMonotoneX);
  const lg=g.append("g").attr("clip-path",`url(#${clipId})`);
  styles.forEach(st=>{
    const arr=s[st.k]; if(!arr.length) return;
    const pts=s.t.map((tt,idx)=>({d:toDate(tt),v:arr[idx]}));
    const p=lg.append("path").attr("d",line(pts)).attr("fill","none")
      .attr("stroke",st.color).attr("stroke-width",st.w).attr("stroke-linejoin","round");
    if(st.dash) p.attr("stroke-dasharray",st.dash);
  });

  const xa=g.append("g").attr("transform",`translate(0,${H})`)
    .call(d3.axisBottom(x).tickValues(xTickDays.map(toDate)).tickFormat((d,k)=>xTickLabels[k]).tickSize(4.9).tickPadding(4.9));
  const ticks=s.ticks.filter(v=>v>=lo-1e-3&&v<=hi+1e-3);
  const dec=s.ticks.some(v=>Math.abs(v*10-Math.round(v*10))>1e-6)?2:1;
  const ya=g.append("g")
    .call(d3.axisLeft(y).tickValues(ticks).tickFormat(d3.format("."+dec+"f")).tickSize(4.9).tickPadding(4.9));
  [xa,ya].forEach(a=>{
    a.select(".domain").remove();
    a.selectAll("line").attr("stroke","#000").attr("stroke-width",1.1);
    a.selectAll("text").attr("font-size",FS).attr("font-family","DejaVu Sans").attr("fill","#000");
  });
  g.append("rect").attr("width",W).attr("height",H).attr("fill","none").attr("stroke","#000").attr("stroke-width",1.1);

  const maxW=d3.max(ya.selectAll("text").nodes(),n=>n.getComputedTextLength())||30;
  const lx=-4.9-4.9-maxW-5.6-3.3;
  g.append("text").attr("transform",`translate(${lx},${H/2}) rotate(-90)`).attr("text-anchor","middle")
    .attr("font-size",FS).text("Elevation (m)");
  g.append("text").attr("x",W/2).attr("y",-8.3).attr("text-anchor","middle").attr("font-size",TFS).text(s.title);

  if(s.legend){
    const lgG=g.append("g");
    const box=lgG.append("rect").attr("fill","#fff").attr("fill-opacity",0.8).attr("stroke","#cccccc").attr("stroke-width",1).attr("rx",3);
    const rowH=21;
    const texts=[];
    seriesNames.forEach((n,k)=>{
      const st=styles[k], cy=19+k*rowH;
      const ln=lgG.append("line").attr("x1",5).attr("x2",34).attr("y1",cy).attr("y2",cy)
        .attr("stroke",st.color).attr("stroke-width",st.w);
      if(st.dash) ln.attr("stroke-dasharray",st.dash);
      texts.push(lgG.append("text").attr("x",44).attr("y",cy).attr("dy","0.35em").attr("font-size",FS).text(n));
    });
    const tw=d3.max(texts,t=>t.node().getComputedTextLength());
    const bw=44+tw+6, bh=88;
    box.attr("x",0).attr("y",7).attr("width",bw).attr("height",bh);
    lgG.attr("transform",`translate(${W-7-bw},0)`);
  }
});
</script></body></html>
